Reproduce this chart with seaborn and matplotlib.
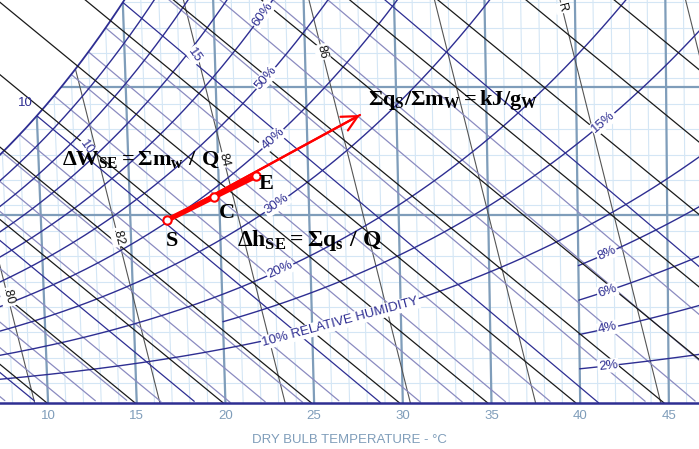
import numpy as np
import pandas as pd
import matplotlib
matplotlib.use("Agg")
import matplotlib.pyplot as plt
import seaborn as sns

sns.set_theme(style="white")
plt.rcParams['font.family'] = ['Liberation Sans', 'DejaVu Sans']
plt.rcParams['mathtext.fontset'] = 'custom'
plt.rcParams['mathtext.rm'] = 'Liberation Serif:bold'
plt.rcParams['mathtext.it'] = 'Liberation Serif:bold'
plt.rcParams['mathtext.bf'] = 'Liberation Serif:bold'

# relative humidity curves, %
rh_full = [10, 20, 30, 40, 50, 60, 70, 80, 90]
rh_from20 = [15]
rh_from40 = [2, 4, 6, 8]
rh_lab = [60, 50, 40, 30, 20, 15, 8, 6, 4, 2]
rh_lab_t = [22.7, 22.8, 23.1, 23.2, 23.3, 41.5, 41.6, 41.6, 41.6, 41.6]

# enthalpy lines, kJ/kg
h_lines = [10, 15, 20, 25, 30, 35, 40, 45, 50, 55, 60, 65, 70, 75, 80, 85, 90]

# wet bulb lines, C
twb_major = [0, 5, 10, 15, 20]
twb_minor = [-2, -1, 1, 2, 3, 4, 6, 7, 8, 9, 11, 12, 13, 14, 16, 17, 18, 19]

# specific volume lines, m3/kg
vol_lines = [0.78, 0.80, 0.82, 0.84, 0.86, 0.88, 0.90, 0.92]
vol_lab = ['.80', '.82', '84', '86', 'R']
vol_lab_v = [0.80, 0.82, 0.84, 0.86, 0.90]
vol_lab_w = [2.81, 4.40, 6.45, 9.31, 10.48]

# dry bulb grid, C
db_minor = list(range(5, 48))
db_major = [10, 15, 20, 25, 30, 35, 40, 45]

# humidity ratio grid, g/kg
w_minor = [0.53, 1.20, 1.88, 2.55, 3.22, 3.90, 4.57, 5.24, 5.92, 6.59,
           7.26, 7.94, 8.61, 9.28, 9.96, 10.63]
w_major = [4.99, 8.38]

# process S -> C -> E
pt_name = ['S', 'C', 'E']
pt_t = [17.05, 19.72, 22.10]
pt_w = [4.85, 5.46, 6.02]
pt_lab_x = [16.99, 20.03, 22.28]
pt_lab_w = [4.30, 5.04, 5.81]
tip_t, tip_w = 27.97, 7.64

P = 101.325
navy = '#2e2e92'


def psat(t):
    return 0.61094 * np.exp(17.625 * t / (t + 243.04))


def w_rh(t, phi):
    pv = phi * psat(t)
    return 622.0 * pv / (P - pv)


def chart_x(t, w):
    # dry bulb lines lean slightly (oblique h-W chart)
    return t + 0.00185 * w * (t - 55.0)


def w_wetbulb(t, twb):
    ws = w_rh(twb, 1.0) / 1000.0
    return 1000.0 * ((2501 - 2.326 * twb) * ws - 1.006 * (t - twb)) / (2501 + 1.86 * t - 4.186 * twb)


def t_vol(v, w):
    return v * P / (0.287042 * (1 + 0.0016078 * w)) - 273.15


def frame(curves):
    rows = [pd.DataFrame({'x': x, 'w': w, 'id': i}) for i, (x, w) in enumerate(curves)]
    return pd.concat(rows, ignore_index=True)


fig = plt.figure(figsize=(6.99, 4.49), dpi=100)
ax = fig.add_axes([0, 46 / 449, 1, 403 / 449])
ax.set_xlim(7.29, 46.70)
ax.set_ylim(0, 10.69)


def draw(curves, **kw):
    # curves are (dry bulb, humidity ratio) pairs
    cc = [(chart_x(t, w), w) for t, w in curves]
    sns.lineplot(data=frame(cc), x='x', y='w', units='id', estimator=None,
                 sort=False, legend=False, ax=ax, **kw)


wtop = np.linspace(0, 11.5, 50)

# grid
draw([(np.full_like(wtop, t), wtop) for t in db_minor], color='#d4e6f5', lw=0.8, zorder=0.5)
for w in w_minor:
    ax.axhline(w, color='#d4e6f5', lw=0.8, zorder=0.5)
draw([(np.full_like(wtop, t), wtop) for t in db_major], color='#7f9dba', lw=1.6, zorder=1)
for w in w_major:
    ax.axhline(w, color='#7f9dba', lw=1.6, zorder=1)

# specific volume
draw([(t_vol(v, wtop), wtop) for v in vol_lines], color='#555555', lw=0.8, zorder=1.3)


# wet bulb
def wb_curve(twb):
    t = np.linspace(twb, 60, 300)
    w = w_wetbulb(t, twb)
    keep = w >= 0
    return t[keep], w[keep]


draw([wb_curve(t) for t in twb_minor], color='#8b8bc0', lw=0.9, zorder=1.4)
draw([wb_curve(t) for t in twb_major], color=navy, lw=0.9, zorder=1.5)

# white area above saturation
ts = np.linspace(-4, 16.5, 200)
ws = w_rh(ts, 1.0)
xs = chart_x(ts, ws)
ax.fill(np.concatenate([xs, [xs[-1], 0, 0]]), np.concatenate([ws, [12, 12, ws[0]]]),
        color='white', zorder=2, lw=0)

# relative humidity
tt = np.linspace(-4, 50, 300)
draw([(tt, w_rh(tt, p / 100)) for p in rh_full], color=navy, lw=1.0, zorder=3)
draw([(tt, w_rh(tt, 1.0))], color=navy, lw=1.3, zorder=3)
t20 = np.linspace(20, 50, 100)
draw([(t20, w_rh(t20, p / 100)) for p in rh_from20], color=navy, lw=1.0, zorder=3)
t40 = np.linspace(40, 50, 60)
draw([(t40, w_rh(t40, p / 100)) for p in rh_from40], color=navy, lw=1.0, zorder=3)

# enthalpy, straight in the chart
hdf = pd.concat([pd.DataFrame({'x': (h - 2.603 * wtop) / 1.006, 'w': wtop, 'id': i})
                 for i, h in enumerate(h_lines)], ignore_index=True)
sns.lineplot(data=hdf, x='x', y='w', units='id', estimator=None, sort=False,
             legend=False, ax=ax, color='#1a1a1a', lw=0.9, zorder=3.2)


def angle(x2, w2):
    p = ax.transData.transform(np.column_stack([x2, w2]))
    return np.degrees(np.arctan2(p[1, 1] - p[0, 1], p[1, 0] - p[0, 0]))


box = dict(boxstyle='square,pad=0.08', fc='white', ec='none')
for p, t0 in zip(rh_lab, rh_lab_t):
    t2 = np.array([t0 - 0.4, t0 + 0.4])
    w2 = w_rh(t2, p / 100)
    w0 = w_rh(t0, p / 100)
    ax.text(chart_x(t0, w0), w0, f'{p}%', color=navy, fontsize=9.5,
            rotation=angle(chart_x(t2, w2), w2), rotation_mode='anchor',
            ha='center', va='center', bbox=box, zorder=4)

t0 = 26.6
t2 = np.array([t0 - 0.4, t0 + 0.4])
w2 = w_rh(t2, 0.10)
w0 = w_rh(t0, 0.10)
ax.text(chart_x(t0, w0), w0, '10% RELATIVE HUMIDITY', color=navy, fontsize=9.5,
        rotation=angle(chart_x(t2, w2), w2), rotation_mode='anchor',
        ha='center', va='center', bbox=box, zorder=4)

for lab, v, w0 in zip(vol_lab, vol_lab_v, vol_lab_w):
    w2 = np.array([w0 - 0.3, w0 + 0.3])
    ang = angle(chart_x(t_vol(v, w2), w2), w2) - 180
    ax.text(chart_x(t_vol(v, w0), w0), w0, lab, color='#111111', fontsize=9, rotation=ang,
            rotation_mode='anchor', ha='center', va='center', bbox=box, zorder=4)

# temperature labels on saturation / wet bulb lines
ax.text(8.70, 7.96, '10', color=navy, fontsize=9.5, ha='center', va='center', zorder=4)
ax.text(18.28, 9.23, '15', color=navy, fontsize=9.5, rotation=-55, rotation_mode='anchor',
        ha='center', va='center', bbox=box, zorder=4)
ax.text(12.19, 6.79, '10', color=navy, fontsize=9.5, rotation=-55, rotation_mode='anchor',
        ha='center', va='center', bbox=box, zorder=4)

# process line
px = chart_x(np.array(pt_t), np.array(pt_w))
tx = chart_x(tip_t, tip_w)
ax.plot([px[0], tx], [pt_w[0], tip_w], color='red', lw=1.6, zorder=5)
ax.plot([px[0], px[2]], [pt_w[0], pt_w[2]], color='red', lw=3.8, zorder=5)
ax.annotate('', xy=(tx, tip_w), xytext=(px[0], pt_w[0]),
            arrowprops=dict(arrowstyle='->', color='red', lw=1.6, mutation_scale=28,
                            shrinkA=0, shrinkB=0), zorder=5)
ax.plot(px, pt_w, 'o', ms=6, mfc='white', mec='red', mew=1.5, zorder=6)

for name, x0, w0 in zip(pt_name, pt_lab_x, pt_lab_w):
    ax.text(x0, w0, rf'$\mathrm{{{name}}}$', fontsize=16, ha='center', va='center',
            color='black', zorder=7)
ax.text(10.79, 6.45, r'$\Delta W_{SE} = \Sigma m_w\ /\ Q$', fontsize=16,
        ha='left', va='center', color='black', zorder=7)
ax.text(28.04, 8.04, r'$\Sigma q_S/\Sigma m_W = kJ/g_W$', fontsize=16,
        ha='left', va='center', color='black', zorder=7)
ax.text(20.65, 4.32, r'$\Delta h_{SE} = \Sigma q_s\ /\ Q$', fontsize=17,
        ha='left', va='center', color='black', zorder=7)

# axes
for s in ['top', 'left', 'right']:
    ax.spines[s].set_visible(False)
ax.spines['bottom'].set_color(navy)
ax.spines['bottom'].set_linewidth(1.8)
ax.spines['bottom'].set_zorder(8)
ax.set_xticks(db_major)
ax.set_xticklabels([str(t) for t in db_major])
ax.set_yticks([])
ax.tick_params(axis='x', length=0, pad=5, labelsize=9.5, labelcolor='#7f9dba')
ax.set_xlabel('')
ax.set_ylabel('')
fig.text(349 / 699, 1 - 440 / 449, 'DRY BULB TEMPERATURE - °C', color='#7f9dba',
         fontsize=9.5, ha='center', va='center')

fig.savefig('out.png', dpi=100)
